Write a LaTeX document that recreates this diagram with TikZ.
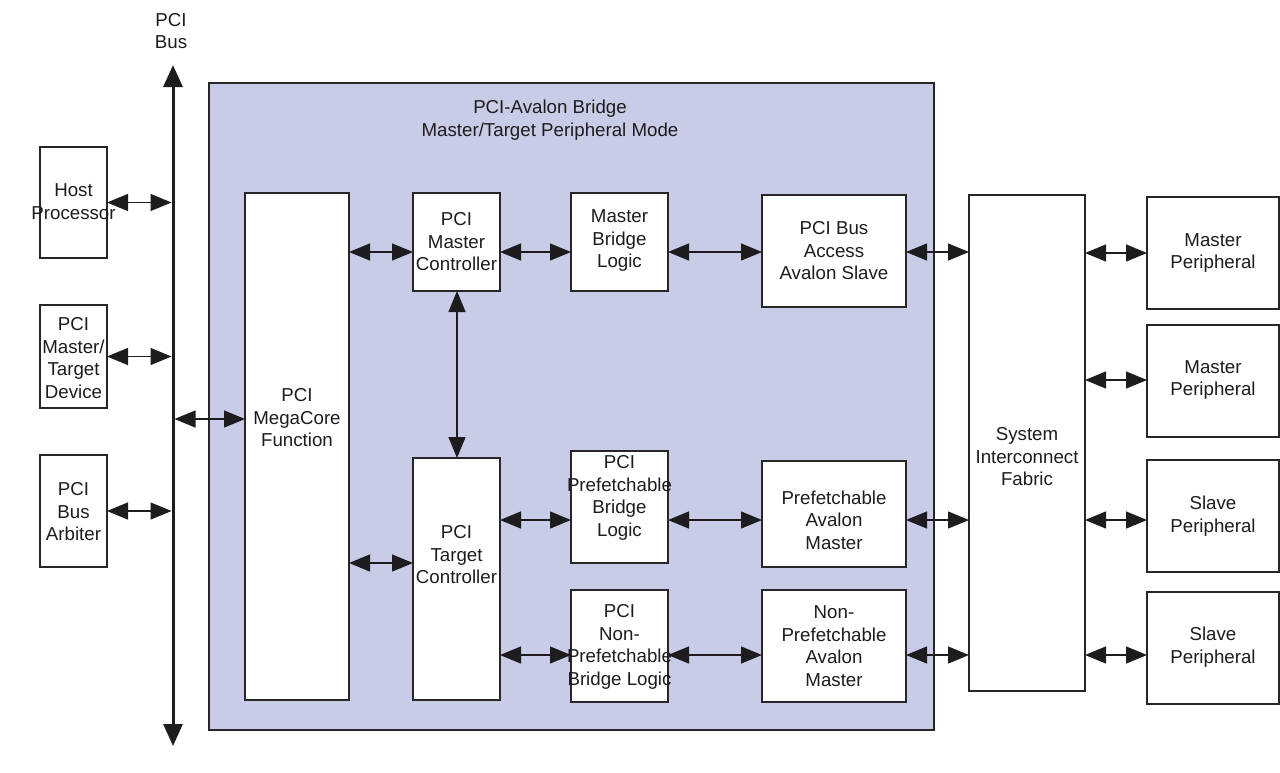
\documentclass[tikz,border=0pt]{standalone}
\usepackage{fontspec}
\setmainfont{Liberation Sans}
\usetikzlibrary{arrows.meta}
\definecolor{bridgefill}{RGB}{200,204,230}
\definecolor{edge}{RGB}{40,38,40}
\definecolor{ink}{RGB}{30,28,30}
\begin{document}
\begin{tikzpicture}[x=1pt,y=-1pt,
  box/.style={draw=edge,line width=1.3pt,fill=white,rectangle,inner sep=0pt,outer sep=0pt},
  lbl/.style={align=center,inner sep=0pt,font=\fontsize{18.7}{22.5}\selectfont,text=ink},
  arr/.style={line width=1.3pt,draw=ink,fill=ink,{Triangle[length=21pt,width=17pt]}-{Triangle[length=21pt,width=17pt]}},
  busarr/.style={line width=3pt,draw=ink,fill=ink,{Triangle[length=22pt,width=19pt]}-{Triangle[length=22pt,width=19pt]}}]
\useasboundingbox (0,0) rectangle (1280,772);
% big bridge box
\node[box,fill=bridgefill,minimum width=725,minimum height=647] (big) at (571.5,406.5) {};
\node[lbl] (title) at (550,120) {PCI-Avalon Bridge\\Master/Target Peripheral Mode};
% bus
\coordinate (bustop) at (173,65);
\coordinate (busbot) at (173,746);
\draw[busarr] (bustop) -- (busbot);
\node[lbl] (buslbl) at (171,31) {PCI\\Bus};
\coordinate (busL) at (171.5,0);
\coordinate (busR) at (174.5,0);
% left boxes
\node[box,minimum width=67,minimum height=111] (host) at (73.5,202.5) {};
\node[lbl] (host-t) at (73.5,201.5) {Host\\Processor};
\node[box,minimum width=67,minimum height=103] (mtd) at (73.5,356.5) {};
\node[lbl] (mtd-t) at (73.5,358) {PCI\\Master/\\Target\\Device};
\node[box,minimum width=67,minimum height=112] (arb) at (73.5,511) {};
\node[lbl] (arb-t) at (73.5,512) {PCI\\Bus\\Arbiter};
% inside bridge
\node[box,minimum width=104,minimum height=507] (mega) at (297,446.5) {};
\node[lbl] (mega-t) at (297,418) {PCI\\MegaCore\\Function};
\node[box,minimum width=87,minimum height=98] (mc) at (456.5,242) {};
\node[lbl] (mc-t) at (456.5,242) {PCI\\Master\\Controller};
\node[box,minimum width=97,minimum height=98] (mbl) at (619.5,242) {};
\node[lbl] (mbl-t) at (619.5,241) {Master\\Bridge\\Logic};
\node[box,minimum width=144,minimum height=112] (ba) at (834,251) {};
\node[lbl] (ba-t) at (834,251) {PCI Bus\\Access\\Avalon Slave};
\node[box,minimum width=87,minimum height=242] (tc) at (456.5,579) {};
\node[lbl] (tc-t) at (456.5,555) {PCI\\Target\\Controller};
\node[box,minimum width=97,minimum height=112] (pbl) at (619.5,507) {};
\node[lbl] (pbl-t) at (619.5,498) {PCI\\Prefetchable\\Bridge\\Logic};
\node[box,minimum width=144,minimum height=106] (pam) at (834,514) {};
\node[lbl] (pam-t) at (834,520) {Prefetchable\\Avalon\\Master};
\node[box,minimum width=97,minimum height=112] (npbl) at (619.5,646) {};
\node[lbl] (npbl-t) at (619.5,647) {PCI\\Non-\\Prefetchable\\Bridge Logic};
\node[box,minimum width=144,minimum height=112] (npam) at (834,646) {};
\node[lbl] (npam-t) at (834,646) {Non-\\Prefetchable\\Avalon\\Master};
% fabric and peripherals
\node[box,minimum width=116,minimum height=496] (fab) at (1027,443) {};
\node[lbl] (fab-t) at (1027,457) {System\\Interconnect\\Fabric};
\node[box,minimum width=132,minimum height=112] (mp1) at (1213,253) {};
\node[lbl] (mp1-t) at (1213,253) {Master\\Peripheral};
\node[box,minimum width=132,minimum height=112] (mp2) at (1213,381) {};
\node[lbl] (mp2-t) at (1213,380) {Master\\Peripheral};
\node[box,minimum width=132,minimum height=112] (sp1) at (1213,516) {};
\node[lbl] (sp1-t) at (1213,516) {Slave\\Peripheral};
\node[box,minimum width=132,minimum height=112] (sp2) at (1213,648) {};
\node[lbl] (sp2-t) at (1213,647) {Slave\\Peripheral};
% row coordinates
\coordinate (r1) at (0,252);
\coordinate (r2) at (0,380);
\coordinate (r3) at (0,520);
\coordinate (r4) at (0,655);
\coordinate (rm) at (0,419);
\coordinate (rt) at (0,563);
\coordinate (cv) at (457,0);
% connectors
\draw[arr] (host.east) -- (host.east -| busL);
\draw[arr] (mtd.east) -- (mtd.east -| busL);
\draw[arr] (arb.east) -- (arb.east -| busL);
\draw[arr] (busR |- rm) -- (mega.west |- rm);
\draw[arr] (mega.east |- r1) -- (mc.west |- r1);
\draw[arr] (mc.east |- r1) -- (mbl.west |- r1);
\draw[arr] (mbl.east |- r1) -- (ba.west |- r1);
\draw[arr] (ba.east |- r1) -- (fab.west |- r1);
\draw[arr] (fab.east |- mp1) -- (mp1.west);
\draw[arr] (fab.east |- r2) -- (mp2.west |- r2);
\draw[arr] (mc.south -| cv) -- (tc.north -| cv);
\draw[arr] (mega.east |- rt) -- (tc.west |- rt);
\draw[arr] (tc.east |- r3) -- (pbl.west |- r3);
\draw[arr] (pbl.east |- r3) -- (pam.west |- r3);
\draw[arr] (pam.east |- r3) -- (fab.west |- r3);
\draw[arr] (fab.east |- r3) -- (sp1.west |- r3);
\draw[arr] (tc.east |- r4) -- (npbl.west |- r4);
\draw[arr] (npbl.east |- r4) -- (npam.west |- r4);
\draw[arr] (npam.east |- r4) -- (fab.west |- r4);
\draw[arr] (fab.east |- r4) -- (sp2.west |- r4);
\end{tikzpicture}
\end{document}
